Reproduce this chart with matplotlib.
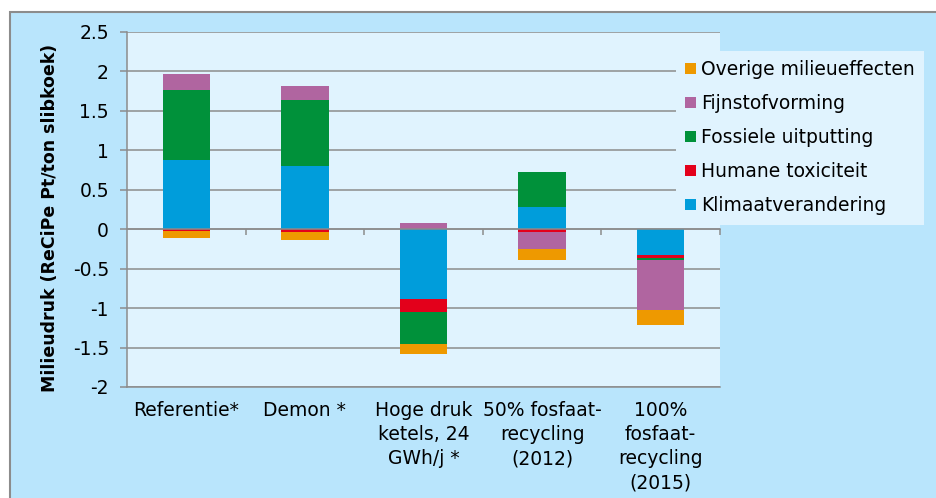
import matplotlib
matplotlib.use('Agg')
import matplotlib.pyplot as plt
import matplotlib.patches as mpatches
from matplotlib.ticker import FuncFormatter
import numpy as np

# data
categories = ['Referentie*', 'Demon *', 'Hoge druk\nketels, 24\nGWh/j *',
              '50% fosfaat-\nrecycling\n(2012)', '100%\nfosfaat-\nrecycling\n(2015)']
klimaat = [0.88, 0.80, -0.89, 0.28, -0.33]
humane = [-0.02, -0.035, -0.165, -0.03, -0.035]
fossiele = [0.89, 0.835, -0.395, 0.44, -0.02]
fijnstof = [0.195, 0.175, 0.085, -0.22, -0.64]
overige = [-0.085, -0.10, -0.135, -0.135, -0.195]
series_names = ['Klimaatverandering', 'Humane toxiciteit', 'Fossiele uitputting',
                'Fijnstofvorming', 'Overige milieueffecten']
y_ticks = [-2, -1.5, -1, -0.5, 0, 0.5, 1, 1.5, 2, 2.5]

colors = ['#009ddb', '#e3001b', '#00913a', '#b065a0', '#ee9900']
plot_bg = '#e0f3fe'
fig_bg = '#b9e5fc'
grid_c = '#8c8c8c'

plt.rcParams['font.family'] = ['DejaVu Sans']
plt.rcParams['axes.unicode_minus'] = False

W, H = 936, 498
fig = plt.figure(figsize=(W/100, H/100), dpi=100, facecolor='white')
bg = mpatches.Rectangle((10/W, -0.1), 1.1, 0.1 + (H-12)/H, transform=fig.transFigure,
                        facecolor=fig_bg, edgecolor=grid_c, linewidth=1.5, zorder=-10)
fig.patches.append(bg)

ax = fig.add_axes([127/W, 111/H, 593/W, 355/H])
ax.set_facecolor(plot_bg)

x = np.arange(len(categories))
pos_bottom = np.zeros(len(categories))
neg_bottom = np.zeros(len(categories))
all_series = [klimaat, humane, fossiele, fijnstof, overige]
for vals, c in zip(all_series, colors):
    v = np.array(vals)
    b = np.where(v >= 0, pos_bottom, neg_bottom)
    ax.bar(x, v, width=0.4, bottom=b, color=c, edgecolor='none', zorder=2)
    pos_bottom = pos_bottom + np.where(v >= 0, v, 0)
    neg_bottom = neg_bottom + np.where(v < 0, v, 0)

ax.set_xlim(-0.5, len(categories) - 0.5)
ax.set_ylim(-2, 2.5)
ax.set_yticks(y_ticks)
ax.yaxis.set_major_formatter(FuncFormatter(lambda v, p: '%g' % v))
ax.grid(axis='y', color=grid_c, linewidth=1.1)
ax.set_axisbelow(True)

for s in ['top', 'right']:
    ax.spines[s].set_visible(False)
for s in ['left', 'bottom']:
    ax.spines[s].set_color(grid_c)
    ax.spines[s].set_linewidth(1.1)

ax.tick_params(axis='y', direction='out', length=5, width=1.1, color=grid_c,
               labelsize=13.5, pad=8)
ax.set_xticks(x)
ax.set_xticklabels(categories, fontsize=13.5, linespacing=1.35, va='top')
ax.tick_params(axis='x', length=0, pad=10)

ax.set_ylabel('Milieudruk (ReCiPe Pt/ton slibkoek)', fontsize=12.5, fontweight='bold')
ax.yaxis.set_label_coords(-0.115, 0.476)

# zero axis with category separators
zero_loc = (0 - (-2)) / (2.5 - (-2))
sec = ax.secondary_xaxis(zero_loc)
sec.set_xticks(x + 0.5, labels=[''] * len(x))
sec.tick_params(direction='out', length=4.5, width=1.1, color=grid_c)
for s in sec.spines.values():
    s.set_color(grid_c)
    s.set_linewidth(1.1)
sec.set_zorder(5)

handles = [mpatches.Patch(facecolor=c, edgecolor='none') for c in colors][::-1]
fig.legend(handles, series_names[::-1], loc='upper left',
           bbox_to_anchor=(676/W, 1 - 51/H), fontsize=13.5, frameon=True,
           fancybox=False, facecolor=plot_bg, edgecolor='none', framealpha=1,
           borderpad=0.5, borderaxespad=0, handlelength=0.56, handleheight=0.56,
           handletextpad=0.28, labelspacing=0.8)

fig.savefig('out.png', dpi=100, facecolor='white')
